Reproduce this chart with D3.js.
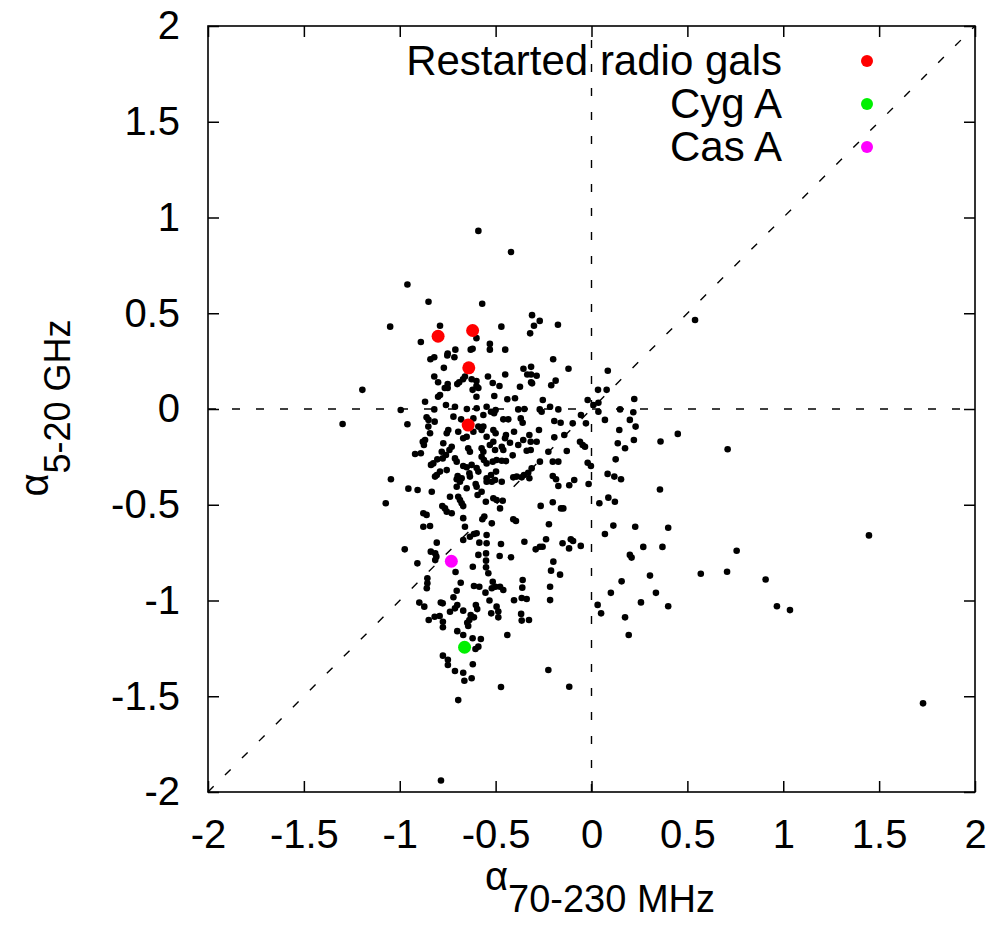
<!DOCTYPE html>
<html>
<head>
<meta charset="utf-8">
<script src="https://cdn.jsdelivr.net/npm/d3@7"></script>
<style>
  body { margin: 0; background: #fff; }
  svg text { font-family: "Liberation Sans", Arial, Helvetica, sans-serif; fill: #000; }
</style>
</head>
<body>
<div id="chart"></div>
<script>
// spectral index pairs [alpha 70-230 MHz, alpha 5-20 GHz]
const sources = [
  [0.54,0.465],[0.36,-0.17],[0.45,-0.13],[0.71,-0.21],[0.357,-0.42],[0.40,-0.62],[0.27,-0.72],[0.37,-0.72],
  [0.757,-0.74],[1.447,-0.66],[0.305,-0.87],[0.57,-0.86],[0.707,-0.85],[0.908,-0.89],[0.336,-0.96],[0.258,-1.01],
  [0.40,-1.03],[0.967,-1.03],[1.035,-1.05],[1.729,-1.537],[-0.785,-1.94],
  [-0.59,0.93],[-0.96,0.65],[-0.85,0.56],[-0.57,0.55],[-1.05,0.43],[-0.79,0.435],[-0.47,0.43],[-0.60,0.37],
  [-0.89,0.35],[-0.53,0.34],[-0.53,0.31],[-0.71,0.31],[-0.75,0.29],[-0.63,0.31],[-0.62,0.315],[-0.752,0.28],
  [-0.715,0.27],[-0.84,0.26],[-0.82,0.27],[-0.77,0.215],[-0.82,0.17],[-0.66,0.17],[-0.67,0.155],[-0.69,0.14],
  [-0.70,0.13],[-0.80,0.14],[-0.75,0.13],[-0.625,0.155],[-0.60,0.146],[-0.54,0.17],[-0.515,0.136],[-0.48,0.12],
  [-0.60,0.12],[-0.59,0.11],[-1.195,0.10],[-0.765,0.11],[-0.75,0.11],[-0.62,0.10],
  [-0.42,0.82],[-0.31,0.49],[-0.27,0.46],[-0.30,0.435],[-0.175,0.44],[-0.32,0.395],[-0.45,0.31],[-0.20,0.26],
  [-0.12,0.21],[-0.315,0.22],[-0.355,0.21],[-0.335,0.18],[-0.315,0.18],[-0.286,0.174],[-0.45,0.18],[-0.373,0.116],
  [-0.315,0.14],[-0.31,0.134],[-0.187,0.148],[-0.21,0.124],[0.085,0.20],[0.034,0.10],[0.079,0.10],
  [-0.80,0.064],[-0.79,0.073],[-0.60,0.064],[-0.507,0.068],[-0.868,0.038],[-0.759,0.021],[-0.712,0.012],[-0.65,0.0],
  [-0.599,0.004],[-0.547,0.012],[-0.82,-0.002],[-0.995,-0.005],[-0.524,-0.014],[-0.5,-0.005],[-0.86,-0.043],[-0.85,-0.057],
  [-0.818,-0.066],[-0.72,-0.04],[-0.68,-0.054],[-0.616,-0.049],[-0.564,-0.031],[-0.508,-0.022],[-1.298,-0.078],[-0.96,-0.08],
  [-0.59,-0.092],[-0.564,-0.092],[-0.851,-0.092],[-0.842,-0.127],[-0.747,-0.11],[-0.755,-0.127],[-0.695,-0.119],[-0.616,-0.119],
  [-0.573,-0.11],[-0.512,-0.11],[-0.5,-0.127],[-0.547,-0.145],[-0.669,-0.153],[-0.651,-0.145],[-0.868,-0.162],[-0.88,-0.171],
  [-0.874,-0.188],[-0.773,-0.179],[-0.729,-0.197],[-0.741,-0.214],[-0.643,-0.205],[-0.634,-0.223],[-0.573,-0.205],[-0.564,-0.223],
  [-0.512,-0.171],[-0.53,-0.188],[-0.503,-0.214],[-0.92,-0.235],[-0.89,-0.231],[-0.781,-0.223],[-0.759,-0.24],[-0.776,-0.258],
  [-0.804,-0.263],[-0.825,-0.284],[-0.837,-0.292],[-0.712,-0.258],[-0.703,-0.275],[-0.669,-0.298],[-0.573,-0.249],[-0.561,-0.266],
  [-0.547,-0.284],[-0.515,-0.275],[-0.495,-0.266],[-0.625,-0.292],[-0.651,-0.304],[-0.755,-0.319],[-0.79,-0.327],[-0.807,-0.345],
  [-0.816,-0.353],[-0.599,-0.308],[-0.59,-0.327],[-0.698,-0.35],[-0.677,-0.362],[-0.703,-0.367],[-0.637,-0.336],[-0.634,-0.353],
  [-0.547,-0.362],[-0.524,-0.345],[-0.498,-0.327],[-1.046,-0.367],[-0.703,-0.406],[-0.686,-0.38],[-0.651,-0.414],[-0.604,-0.392],
  [-0.599,-0.406],[-0.573,-0.432],[-0.547,-0.38],[-0.52,-0.38],[-0.503,-0.371],[-0.955,-0.416],[-0.907,-0.423],[-0.833,-0.432],
  [-0.738,-0.458],[-0.695,-0.458],[-0.686,-0.475],[-0.677,-0.492],[-0.669,-0.507],[-0.594,-0.449],[-0.551,-0.484],[-0.512,-0.466],
  [-0.495,-0.475],[-1.073,-0.492],[-0.778,-0.507],[-0.764,-0.519],[-0.755,-0.536],[-0.729,-0.544],[-0.877,-0.544],[-0.86,-0.553],
  [-0.669,-0.57],[-0.559,-0.562],[-0.569,-0.576],[-0.52,-0.597],[-0.877,-0.615],[-0.842,-0.611],[-0.66,-0.615],[-0.599,-0.649],
  [-0.547,-0.658],[-0.669,-0.684],[-0.634,-0.667],[-0.613,-0.653],[-0.807,-0.698],[-0.585,-0.698],[-0.547,-0.701],
  [-0.439,0.051],[-0.399,0.056],[-0.254,0.047],[-0.02,0.047],[0.036,0.033],[0.223,0.052],[-0.382,-0.002],[-0.35,0.0],
  [-0.27,-0.002],[-0.26,-0.014],[-0.216,0.012],[-0.173,-0.002],[0.01,0.021],[0.036,-0.014],[0.149,-0.002],[0.218,-0.017],
  [-0.055,-0.031],[-0.029,-0.075],[0.07,-0.057],[0.2,-0.057],[0.23,-0.092],[0.145,-0.11],[0.221,-0.162],[0.137,-0.179],
  [0.175,-0.205],[-0.46,-0.054],[-0.434,-0.054],[-0.369,-0.049],[-0.359,-0.072],[-0.404,-0.119],[-0.274,-0.11],[-0.194,-0.063],
  [-0.161,-0.072],[-0.098,-0.075],[-0.324,-0.136],[-0.317,-0.171],[-0.286,-0.171],[-0.446,-0.136],[-0.451,-0.153],[-0.425,-0.176],
  [-0.382,-0.188],[-0.356,-0.162],[-0.194,-0.148],[-0.142,-0.136],[-0.06,-0.171],[-0.046,-0.188],[-0.034,-0.197],[-0.468,-0.197],
  [-0.46,-0.214],[-0.338,-0.218],[-0.317,-0.214],[-0.411,-0.242],[-0.225,-0.223],[-0.129,-0.219],[-0.468,-0.27],[-0.446,-0.272],
  [-0.269,-0.275],[-0.202,-0.275],[-0.173,-0.275],[-0.02,-0.281],[-0.003,-0.298],[-0.312,-0.31],[-0.408,-0.357],[-0.39,-0.353],
  [-0.364,-0.357],[-0.352,-0.345],[-0.33,-0.333],[-0.324,-0.362],[-0.468,-0.38],[-0.202,-0.35],[-0.185,-0.367],[-0.173,-0.402],
  [-0.116,-0.398],[-0.09,-0.371],[-0.015,-0.392],[0.084,-0.339],[0.119,-0.353],[0.154,-0.367],[0.126,-0.263],[-0.463,-0.479],
  [-0.477,-0.519],[-0.265,-0.506],[-0.202,-0.487],[-0.159,-0.519],[-0.147,-0.519],[0.041,-0.492],[0.088,-0.463],[0.122,-0.484],
  [-0.408,-0.576],[-0.394,-0.585],[-0.222,-0.602],[0.07,-0.653],[0.114,-0.609],[0.228,-0.615],[-0.472,-0.705],[-0.35,-0.693],
  [-0.269,-0.719],[-0.255,-0.719],[-0.237,-0.68],[-0.151,-0.701],[-0.108,-0.68],[-0.096,-0.689],[-0.056,-0.715],
  [-0.974,-0.733],[-0.838,-0.745],[-0.815,-0.754],[-0.809,-0.771],[-0.815,-0.789],[-0.59,-0.762],[-0.55,-0.754],[-0.908,-0.806],
  [-0.709,-0.851],[-0.619,-0.824],[-0.55,-0.792],[-0.55,-0.827],[-0.538,-0.858],[-0.856,-0.884],[-0.856,-0.91],[-0.859,-0.936],
  [-0.682,-0.907],[-0.703,-0.949],[-0.613,-0.924],[-0.585,-0.928],[-0.515,-0.902],[-0.52,-0.936],[-0.501,-0.928],[-0.553,-0.959],
  [-0.532,-1.0],[-0.72,-0.983],[-0.898,-1.011],[-0.872,-1.032],[-0.786,-1.011],[-0.776,-1.015],[-0.7,-1.024],[-0.712,-1.041],
  [-0.738,-1.059],[-0.669,-1.053],[-0.603,-1.024],[-0.596,-1.045],[-0.495,-1.032],[-0.486,-1.058],[-0.523,-1.067],[-0.63,-1.076],
  [-0.613,-1.088],[-0.637,-1.102],[-0.648,-1.116],[-0.643,-1.133],[-0.849,-1.102],[-0.818,-1.085],[-0.792,-1.081],[-0.775,-1.111],
  [-0.775,-1.14],[-0.486,-1.088],[-0.7,-1.16],[-0.669,-1.18],[-0.62,-1.197],[-0.577,-1.201],[-0.59,-1.241],[-0.605,-1.253],
  [-0.775,-1.288],[-0.749,-1.31],[-0.749,-1.337],[-0.619,-1.333],[-0.712,-1.368],[-0.669,-1.377],[-0.663,-1.419],[-0.625,-1.406],
  [-0.695,-1.52],
  [-0.291,-0.733],[-0.117,-0.728],[-0.479,-0.768],[-0.42,-0.774],[-0.199,-0.797],[-0.211,-0.844],[-0.164,-0.865],[-0.477,-0.928],
  [-0.46,-0.945],[-0.359,-0.893],[-0.361,-0.933],[-0.216,-0.928],[-0.404,-0.999],[-0.364,-0.987],[-0.338,-0.992],[-0.216,-0.998],
  [-0.367,-1.07],[-0.364,-1.105],[-0.326,-1.102],[-0.439,-1.18],[-0.225,-1.363],[-0.472,-1.452],[-0.116,-1.45],[0.032,-1.023],
  [0.05,-1.067],[0.101,-0.96],[0.157,-0.9],[0.175,-1.088],[0.194,-1.18],[0.2,-0.762],[0.209,-0.776]
];
const restarted = [[-0.80,0.38],[-0.62,0.41],[-0.64,0.215],[-0.643,-0.084]];
const cygA = [[-0.662,-1.244]];
const casA = [[-0.731,-0.795]];

const legendLabels = ["Restarted radio gals", "Cyg A", "Cas A"];
const legendColors = ["#ff0000", "#00f000", "#ff00ff"];
const tickValues = [-2, -1.5, -1, -0.5, 0, 0.5, 1, 1.5, 2];

const width = 996, height = 930;
const margin = { top: 26, right: 21, bottom: 138, left: 208 };
const innerW = width - margin.left - margin.right;
const innerH = height - margin.top - margin.bottom;

const svg = d3.select("#chart").append("svg")
    .attr("width", width)
    .attr("height", height);

const g = svg.append("g")
    .attr("transform", `translate(${margin.left},${margin.top})`);

const x = d3.scaleLinear().domain([-2, 2]).range([0, innerW]);
const y = d3.scaleLinear().domain([-2, 2]).range([innerH, 0]);

const fmt = d => String(d);
const tickLen = 11;

// bottom axis with labels, ticks pointing inwards
g.append("g")
    .attr("class", "axis")
    .attr("transform", `translate(0,${innerH})`)
    .call(d3.axisBottom(x).tickValues(tickValues).tickFormat(fmt).tickSizeInner(-tickLen).tickSizeOuter(0).tickPadding(28));
// left axis
g.append("g")
    .attr("class", "axis")
    .call(d3.axisLeft(y).tickValues(tickValues).tickFormat(fmt).tickSizeInner(-tickLen).tickSizeOuter(0).tickPadding(28));
// mirrored ticks on top and right
g.append("g")
    .attr("class", "axis mirror")
    .call(d3.axisTop(x).tickValues(tickValues).tickFormat("").tickSizeInner(-tickLen).tickSizeOuter(0));
g.append("g")
    .attr("class", "axis mirror")
    .attr("transform", `translate(${innerW},0)`)
    .call(d3.axisRight(y).tickValues(tickValues).tickFormat("").tickSizeInner(-tickLen).tickSizeOuter(0));

g.selectAll(".axis .domain").remove();
g.selectAll(".axis line").attr("stroke", "#000").attr("stroke-width", 1.5);
g.selectAll(".axis text").style("font-size", "40px").style("font-family", "'Liberation Sans', Arial, sans-serif");

// dashed reference lines: alpha = 0 on both axes and the 1:1 line
const [lo, hi] = x.domain();
const refLines = [
  [[lo, 0], [hi, 0]],
  [[0, lo], [0, hi]],
  [[lo, lo], [hi, hi]]
];
const line = d3.line().x(d => x(d[0])).y(d => y(d[1]));
g.selectAll(".ref")
    .data(refLines)
    .enter()
    .append("path")
    .attr("class", "ref")
    .attr("d", line)
    .attr("fill", "none")
    .attr("stroke", "#000")
    .attr("stroke-width", 1.4)
    .attr("stroke-dasharray", "8,16");

// frame
g.append("rect")
    .attr("width", innerW)
    .attr("height", innerH)
    .attr("fill", "none")
    .attr("stroke", "#000")
    .attr("stroke-width", 1.6);

// all sources
g.selectAll(".src")
    .data(sources)
    .enter()
    .append("circle")
    .attr("class", "src")
    .attr("cx", d => x(d[0]))
    .attr("cy", d => y(d[1]))
    .attr("r", 3.3)
    .attr("fill", "#000");

// highlighted groups
const groups = [restarted, cygA, casA];
groups.forEach((pts, i) => {
    g.selectAll(".hl" + i)
        .data(pts)
        .enter()
        .append("circle")
        .attr("cx", d => x(d[0]))
        .attr("cy", d => y(d[1]))
        .attr("r", 6.5)
        .attr("fill", legendColors[i]);
});

// legend (top right, text right-aligned)
const legend = g.append("g").attr("transform", `translate(${innerW - 400},0)`);
legendLabels.forEach((label, i) => {
    legend.append("text")
        .attr("x", 207)
        .attr("y", 49 + i * 43)
        .attr("text-anchor", "end")
        .style("font-size", "42px")
        .text(label);
    legend.append("circle")
        .attr("cx", 292)
        .attr("cy", 35 + i * 43)
        .attr("r", 6)
        .attr("fill", legendColors[i]);
});

// axis titles
const xt = svg.append("text")
    .attr("x", 600)
    .attr("y", 890)
    .attr("text-anchor", "middle")
    .style("font-size", "40px");
xt.append("tspan").text("α");
xt.append("tspan").attr("dy", 22).style("font-size", "38px").text("70-230 MHz");

const yt = svg.append("text")
    .attr("transform", "translate(48,408) rotate(-90)")
    .attr("text-anchor", "middle")
    .style("font-size", "40px");
yt.append("tspan").text("α");
yt.append("tspan").attr("dy", 22).style("font-size", "36px").text("5-20 GHz");
</script>
</body>
</html>
